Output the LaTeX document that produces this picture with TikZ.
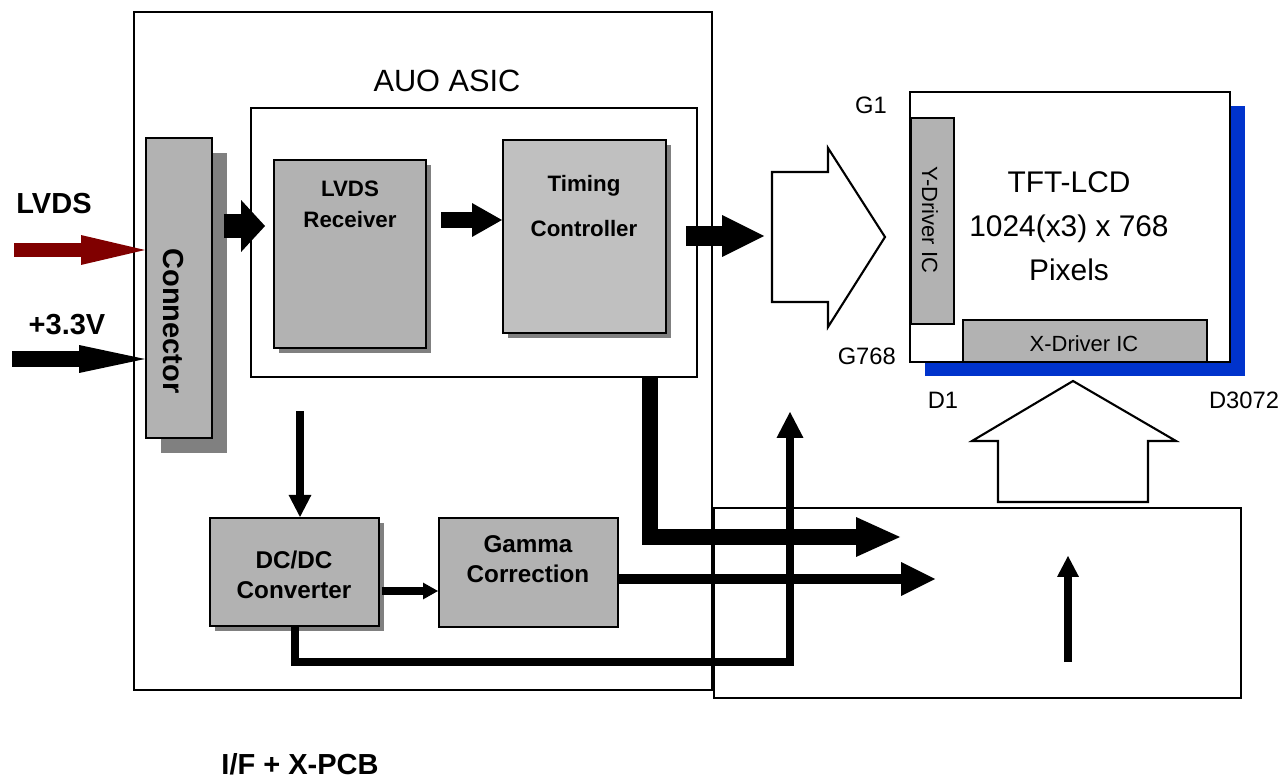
\documentclass[tikz,border=0pt]{standalone}
\usepackage{fontspec}
\setmainfont{Liberation Sans}
\usepackage{tikz}
\usetikzlibrary{arrows.meta,positioning,calc,fit,shadows}
\definecolor{boxgray}{HTML}{B2B2B2}
\definecolor{palegray}{HTML}{C0C0C0}
\definecolor{shadowgray}{HTML}{808080}
\definecolor{lvdsred}{HTML}{800000}
\definecolor{panelblue}{HTML}{0033CC}

\begin{document}
\begin{tikzpicture}[x=0.02cm,y=-0.02cm,
 frame/.style={draw,line width=0.8pt,inner sep=0pt},
 blk/.style={draw,line width=1.2pt,fill=boxgray,inner sep=0pt},
 sh/.style={drop shadow={shadow xshift=#1,shadow yshift=-#1,fill=shadowgray,opacity=1}},
 hollow/.style={draw,line width=1.2pt,fill=white,line join=miter},
 fat/.style n args={3}{line width=#1,line join=miter,-{Triangle[length=#2,width=#3,line width=0pt]}},
 bigb/.style={font=\bfseries\fontsize{16.5}{19}\selectfont},
 inb/.style={font=\bfseries\fontsize{12.7}{17.6}\selectfont,align=center},
 midb/.style={font=\bfseries\fontsize{13.8}{17}\selectfont,align=center},
 title/.style={font=\fontsize{17.5}{21}\selectfont},
 lcdf/.style={font=\fontsize{17}{25}\selectfont,align=center},
 drv/.style={font=\fontsize{12.5}{15}\selectfont},
 pin/.style={font=\fontsize{13.5}{16}\selectfont}]
\useasboundingbox (0,0) rectangle (1284,780);

% boards
\node[frame,fit={(134,12) (712,690)}] (pcb) {};
\node[frame,line width=1.1pt,fit={(251,108) (697,377)}] (asic) {};
\node[frame,fit={(714,508) (1241,698)}] (xpcb) {};
\node[title] (asiclbl) at (447,81) {AUO ASIC};
\node[bigb] (pcblbl) at (300,764) {I/F + X-PCB};

% blocks
\node[blk,sh=8.8pt,fit={(146,138) (212,438)}] (conn) {};
\node[bigb,rotate=-90] (connlbl) at (173,321) {Connector};
\node[blk,sh=2.8pt,fit={(274,160) (426,348)}] (rx) {};
\node[inb] (rxlbl) at (350,204) {LVDS\\Receiver};
\node[blk,fill=palegray,sh=2.8pt,fit={(503,140) (666,333)}] (tcon) {};
\node[inb] (tconlbl) at (584,206) {Timing\\[8pt]Controller};
\node[blk,sh=2.8pt,fit={(210,518) (379,626)}] (dcdc) {};
\node[midb] (dcdclbl) at (294,575) {DC/DC\\Converter};
\node[blk,fit={(439,518) (618,627)}] (gamma) {};
\node[midb] (gammalbl) at (528,559) {Gamma\\Correction};

% panel
\node[draw,line width=1.6pt,fill=white,inner sep=0pt,
 drop shadow={shadow xshift=8.5pt,shadow yshift=-8pt,fill=panelblue,opacity=1},
 fit={(910,92) (1230,362)}] (lcd) {};
\node[blk,line width=1pt,fit={(911,118) (954,324)}] (ydrv) {};
\node[drv,rotate=-90] (ydrvlbl) at (930,220) {Y-Driver IC};
\node[blk,line width=1pt,fit={(963,320) (1207,362)}] (xdrv) {};
\node[drv] (xdrvlbl) at (1084,344) {X-Driver IC};
\node[lcdf] (lcdlbl) at (1069,226) {TFT-LCD\\1024(x3) x 768\\Pixels};
\node[pin,anchor=east] (g1) at (893,105) {G1};
\node[pin,anchor=east] (g768) at (902,356) {G768};
\node[pin] (d1) at (943,400) {D1};
\node[pin] (d3072) at (1244,400) {D3072};

% inputs
\node[bigb] (lvdslbl) at (54,204) {LVDS};
\node[bigb] (pwrlbl) at (67,325) {+3.3V};
\coordinate (lvdsin) at (14,250);
\coordinate (pwrin) at (12,359);
\draw[fat={7.9pt}{36.3pt}{17pt},draw=lvdsred] (lvdsin) -- (conn.west |- lvdsin);
\draw[fat={9.1pt}{37.4pt}{15.9pt}] (pwrin) -- (conn.west |- pwrin);

% data path
\draw[fat={14.2pt}{13.6pt}{29.5pt},shorten <=6.2pt,shorten >=4.5pt] (conn.east |- 0,226) -- (rx.west |- 0,226);
\draw[fat={9.6pt}{17pt}{19.3pt},shorten <=8pt] (rx.east |- 0,220) -- (tcon.west |- 0,220);
\coordinate (datin) at (764,236);
\draw[fat={11.3pt}{23.8pt}{23.8pt},shorten <=10.8pt] (tcon.east |- datin) -- (datin);
\draw[hollow] (772,172) -- (828,172) -- (828,148) -- (885,237) -- (828,327) -- (828,302) -- (772,302) -- cycle;
\draw[hollow] (998,502) -- (998,441) -- (972,441) -- (1073,381) -- (1176,441) -- (1148,441) -- (1148,502) -- cycle;

% to X-PCB
\coordinate (ctltip) at (900,537);
\draw[fat={9.6pt}{25pt}{22.7pt}] (650,0 |- asic.south) -- (650,537) -- (ctltip);
\coordinate (gamtip) at (935,579);
\draw[fat={6.2pt}{19.3pt}{19.3pt}] (gamma.east |- gamtip) -- (gamtip);

% power path
\coordinate (pwrtap) at (300,411);
\draw[fat={4pt}{12.5pt}{13pt}] (pwrtap) -- (pwrtap |- dcdc.north);
\draw[fat={4.5pt}{8.5pt}{9.6pt},shorten <=1pt] (dcdc.east |- 0,591) -- (gamma.west |- 0,591);
\coordinate (biastip) at (790,412);
\draw[fat={4.5pt}{14.7pt}{15.3pt}] (295,0 |- dcdc.south) -- (295,662) -- (biastip |- 0,662) -- (biastip);
\coordinate (xin) at (1068,662);
\coordinate (xout) at (1068,556);
\draw[fat={5.1pt}{11.9pt}{12.5pt}] (xin) -- (xout);
\end{tikzpicture}
\end{document}
